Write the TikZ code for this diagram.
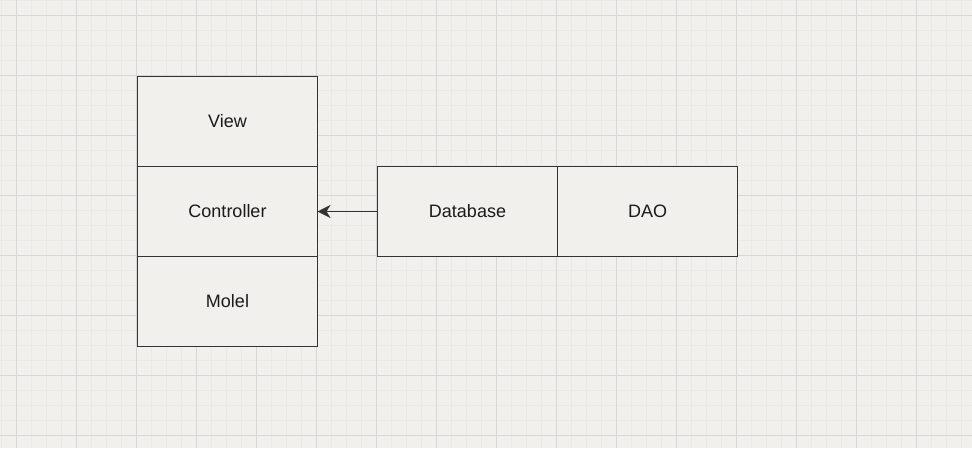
\documentclass[tikz,border=0pt]{standalone}
\usepackage{fontspec}
\setmainfont{Liberation Sans}
\usetikzlibrary{arrows.meta}
\definecolor{bg}{HTML}{F1F0ED}
\definecolor{minorgrid}{HTML}{EAE9E6}
\definecolor{majorgrid}{HTML}{D8D7D5}
\definecolor{stroke}{HTML}{333333}
\definecolor{txt}{HTML}{1A1A1A}
\tikzset{
  cell/.style={draw=stroke, fill=bg, line width=1.8pt, minimum width=180pt, minimum height=90pt, inner sep=0pt, outer sep=0pt, anchor=north west, text=txt, font=\fontsize{18}{21}\selectfont},
  conn/.style={draw=stroke, line width=1.8pt, -{Stealth[length=13pt,width=13pt,inset=4pt]}}
}
\begin{document}
\begin{tikzpicture}[x=1pt,y=-1pt]
\useasboundingbox (0,0) rectangle (972,448);
\fill[bg] (0,0) rectangle (972,448);
\foreach \x in {1,16,...,972} \draw[minorgrid, line width=1pt] (\x,0) -- (\x,448);
\foreach \y in {0,15,...,448} \draw[minorgrid, line width=1pt] (0,\y) -- (972,\y);
\foreach \x in {16,76,...,972} \draw[majorgrid, line width=1pt] (\x,0) -- (\x,448);
\foreach \y in {15,75,...,448} \draw[majorgrid, line width=1pt] (0,\y) -- (972,\y);
\node[cell] (view) at (137.5,76.5) {View};
\node[cell] (ctrl) at (137.5,166.5) {Controller};
\node[cell] (model) at (137.5,256.5) {Molel};
\node[cell] (db) at (377.5,166.5) {Database};
\node[cell] (dao) at (557.5,166.5) {DAO};
\draw[conn] (db.west) -- (ctrl.east);
\end{tikzpicture}
\end{document}
